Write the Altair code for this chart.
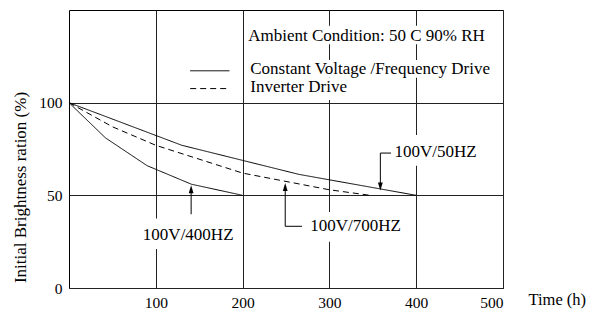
import altair as alt
import pandas as pd

FONT = "Liberation Serif"

# ---- curve data (time h, brightness %) ----
t_50hz = [0, 130, 265, 400]
v_50hz = [100, 77, 61.3, 50]
t_700hz = [0, 50, 100, 200, 300, 347]
v_700hz = [100, 87, 77, 62, 53, 50]
t_400hz = [0, 42, 90, 141, 200]
v_400hz = [100, 81, 66, 56, 50]

x_ticks = [100, 200, 300, 400, 500]
y_ticks = [0, 50, 100]

# ---- annotation texts ----
ann_text = ["Ambient Condition: 50 C 90% RH", "Constant Voltage /Frequency Drive",
            "Inverter Drive", "100V/50HZ", "100V/700HZ", "100V/400HZ"]
ann_t = [206.5, 208.8, 208.8, 375, 278, 137.3]
ann_v = [135.9, 118.3, 108.6, 73.6, 33.3, 28.7]
ann_align = ["left", "left", "left", "left", "left", "center"]

# white boxes behind texts
box_t1 = [205, 207, 207, 373, 276, 83]
box_t2 = [482, 485, 323, 470, 384, 191]
box_v1 = [131.5, 113.5, 101.5, 66, 25, 21]
box_v2 = [141.5, 123, 113.3, 82.5, 41, 37.5]

# leader segments
seg_t1 = [358.7, 358.7, 249.1, 249.1, 140.7]
seg_t2 = [371, 358.7, 268.4, 249.1, 140.7]
seg_v1 = [72.8, 72.8, 33.3, 33.3, 39.8]
seg_v2 = [72.8, 54.5, 33.3, 54.8, 53.5]

# arrow tips
tip_t = [358.7, 249.1, 140.7]
tip_v = [52.6, 56.7, 55.5]
tip_dir = ["down", "up", "up"]

# legend samples
leg_t1 = [139.6, 139.6]
leg_t2 = [184.9, 184.9]
leg_v = [117.2, 107.6]
leg_style = ["solid", "dashed"]

curves = pd.DataFrame(
    [{"t": t, "v": v, "s": "50", "style": "solid", "o": i} for i, (t, v) in enumerate(zip(t_50hz, v_50hz))]
    + [{"t": t, "v": v, "s": "700", "style": "dashed", "o": i} for i, (t, v) in enumerate(zip(t_700hz, v_700hz))]
    + [{"t": t, "v": v, "s": "400", "style": "solid", "o": i} for i, (t, v) in enumerate(zip(t_400hz, v_400hz))]
)

xs = alt.Scale(domain=[0, 500], nice=False)
ys = alt.Scale(domain=[0, 150], nice=False)
dash_scale = alt.Scale(domain=["solid", "dashed"], range=[[1, 0], [6, 4]])

xaxis = alt.Axis(values=x_ticks, grid=True, gridColor="#222", gridOpacity=1, gridWidth=1,
                 ticks=False, domain=False, labelFont=FONT, labelFontSize=15.5, labelColor="black",
                 labelPadding=7, title="Time (h)", titleFont=FONT, titleFontSize=16.5,
                 titleFontWeight="normal", titleColor="black", titleX=459, titleY=11,
                 titleAlign="left", titleBaseline="middle")
yaxis = alt.Axis(values=y_ticks, grid=True, gridColor="#222", gridOpacity=1, gridWidth=1,
                 ticks=False, domain=False, labelFont=FONT, labelFontSize=15.5, labelColor="black",
                 labelPadding=7, title="Initial Brightness ration (%)", titleFont=FONT,
                 titleFontSize=17, titleFontWeight="normal", titleColor="black",
                 titleX=-49, titleY=177, titleAlign="center", titleBaseline="middle")

X = alt.X("t:Q", scale=xs, axis=xaxis)
Y = alt.Y("v:Q", scale=ys, axis=yaxis)

lines = alt.Chart(curves).mark_line(color="black", strokeWidth=1).encode(
    x=X, y=Y, detail="s:N", order="o:Q",
    strokeDash=alt.StrokeDash("style:N", scale=dash_scale, legend=None),
)

boxes = alt.Chart(pd.DataFrame({"t": box_t1, "t2": box_t2, "v": box_v1, "v2": box_v2})).mark_rect(
    color="white", opacity=1).encode(x=X, x2="t2:Q", y=Y, y2="v2:Q")

segs = alt.Chart(pd.DataFrame({"t": seg_t1, "t2": seg_t2, "v": seg_v1, "v2": seg_v2})).mark_rule(
    color="black", strokeWidth=1).encode(x=X, x2="t2:Q", y=Y, y2="v2:Q")

tips = alt.Chart(pd.DataFrame({"t": tip_t, "v": tip_v, "d": tip_dir})).mark_point(
    filled=True, color="black", opacity=1, size=256, strokeWidth=0).encode(
    x=X, y=Y,
    shape=alt.Shape("d:N", scale=alt.Scale(domain=["down", "up"],
                    range=["M0,0 L-0.3,-1 L0.3,-1 Z", "M0,0 L-0.3,1 L0.3,1 Z"]), legend=None),
)

legend = alt.Chart(pd.DataFrame({"t": leg_t1, "t2": leg_t2, "v": leg_v, "style": leg_style})).mark_rule(
    color="black", strokeWidth=1).encode(
    x=X, x2="t2:Q", y=Y,
    strokeDash=alt.StrokeDash("style:N", scale=dash_scale, legend=None),
)

ann_df = pd.DataFrame({"t": ann_t, "v": ann_v, "txt": ann_text, "al": ann_align})
texts_left = alt.Chart(ann_df[ann_df["al"] == "left"]).mark_text(
    font=FONT, fontSize=17, color="black", align="left", baseline="middle").encode(
    x=X, y=Y, text="txt:N")
texts_center = alt.Chart(ann_df[ann_df["al"] == "center"]).mark_text(
    font=FONT, fontSize=17, color="black", align="center", baseline="middle").encode(
    x=X, y=Y, text="txt:N")

chart = alt.layer(lines, boxes, segs, tips, legend, texts_left, texts_center).properties(
    width=434, height=278,
    padding={"left": 61, "top": 2, "right": 90, "bottom": 22},
    autosize="none",
).configure(background="white").configure_view(stroke="black", strokeWidth=1)

chart.save("out.html", embed_options={"renderer": "svg", "actions": False})
